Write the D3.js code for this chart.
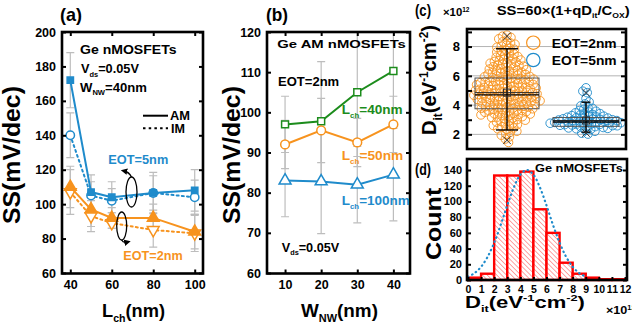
<!DOCTYPE html>
<html><head><meta charset="utf-8">
<script src="https://cdn.jsdelivr.net/npm/d3@7"></script>
<style>body{margin:0;background:#fff}svg{display:block}text{font-family:"Liberation Sans",Arial,sans-serif;font-weight:bold}</style>
</head><body><svg id="chart" width="632" height="324"></svg>
<script>
// ---------- Panel (a) data ----------
const lchValues = [40, 50, 60, 80, 100];
const ssEot5AM = [172, 107, 104, 106.5, 108];
const ssEot5IM = [140, 105, 102, 106.5, 104];
const ssEot2AM = [110, 97, 92, 92, 84];
const ssEot2IM = [107, 93, 89, 85, 83];
const errEot5AM = [16, 10, 9, 12, 12];
const errEot5IM = [13, 8, 7, 10, 10];
const errEot2AM = [12, 10, 6, 8, 10];
const errEot2IM = [13, 9, 3, 10, 10.5];
const ssTicksA = [60, 80, 100, 120, 140, 160, 180, 200];
const lchTicks = [40, 60, 80, 100];

// ---------- Panel (b) data ----------
const wnwValues = [10, 20, 30, 40];
const ssL40 = [97, 97.8, 105, 110.3];
const ssL50 = [92, 95.5, 92.5, 97];
const ssL100 = [83, 82.8, 82, 84.5];
const errL40 = [7, 14.8, 16, 13];
const errL50 = [6, 8, 6, 7];
const errL100 = [9, 13, 9.5, 11.5];
const ssTicksB = [60, 70, 80, 90, 100, 110, 120];
const wnwTicks = [10, 20, 30, 40];

// ---------- Panel (c) data ----------
const eotGroups = ["EOT=2nm", "EOT=5nm"];
const ditEot2 = [1.45,1.68,1.83,1.94,2.02,2.15,2.21,2.33,2.38,2.44,2.52,2.57,2.61,2.66,2.72,2.78,2.83,2.88,2.92,2.97,
3.01,3.06,3.11,3.15,3.18,3.21,3.24,3.29,3.33,3.36,3.39,3.41,3.44,3.47,3.51,3.53,3.56,3.59,3.61,3.63,3.67,3.70,3.72,3.75,3.78,
3.80,3.82,3.85,3.87,3.90,3.92,3.95,3.98,4.01,4.03,4.06,4.08,4.11,4.14,4.16,4.19,4.21,4.23,4.25,4.28,4.30,4.33,4.35,4.37,4.39,
4.41,4.43,4.45,4.48,4.50,4.52,4.55,4.57,4.59,4.60,4.62,4.64,4.67,4.69,4.71,4.74,4.76,4.78,4.80,4.82,4.85,4.87,4.89,4.91,4.94,4.96,4.98,
5.01,5.03,5.05,5.08,5.10,5.12,5.15,5.17,5.19,5.21,5.23,5.26,5.29,5.31,5.34,5.36,5.39,5.41,5.44,5.46,5.49,5.51,5.54,5.56,5.59,
5.61,5.64,5.67,5.70,5.73,5.76,5.78,5.81,5.84,5.87,5.90,5.93,5.96,5.98,6.02,6.05,6.09,6.12,6.15,6.18,6.22,6.25,6.29,6.32,6.35,6.38,
6.42,6.46,6.50,6.54,6.58,6.62,6.66,6.70,6.74,6.78,6.82,6.86,6.90,6.94,6.98,7.03,7.08,7.13,7.18,7.22,7.27,7.32,7.37,
7.43,7.49,7.55,7.62,7.68,7.74,7.82,7.88,7.95,8.03,8.09,8.16,8.24,8.33,8.44,8.53,8.62,8.71,8.78];
const ditEot5 = [2.02,2.08,2.21,2.28,2.34,2.38,2.41,2.44,2.47,2.50,2.53,2.56,2.59,2.60,2.62,2.64,2.66,2.68,2.70,2.72,2.74,2.76,2.78,
2.80,2.82,2.84,2.86,2.88,2.90,2.92,2.94,2.96,2.98,3.00,3.02,3.04,3.06,3.08,3.11,3.14,3.17,3.19,3.21,3.24,3.28,3.32,3.36,3.39,
3.42,3.47,3.53,3.58,3.63,3.71,3.78,3.84,3.95,4.08,4.22,4.45,4.85,4.95,5.18];
const boxQ1 = [3.75, 2.55];
const boxMedian = [4.7, 2.85];
const boxQ3 = [5.85, 3.15];
const boxMean = [4.85, 2.95];
const whiskerLow = [2.3, 2.15];
const whiskerHigh = [7.85, 4.2];
const pctLow = [1.6, 2.1];
const pctHigh = [8.7, 4.85];
const ditTicksC = [2, 3, 4, 5, 6, 7, 8, 9];
const ditGrid = [2, 4, 6, 8];

// ---------- Panel (d) data ----------
const binStart = [0, 1, 2, 3, 4, 5, 6, 7, 8, 9, 10, 11];
const binCount = [3, 8, 133, 133, 138, 90, 60, 22, 8, 3, 1, 1];
const fitX = [0, 0.5, 1, 1.5, 2, 2.5, 3, 3.5, 4, 4.5, 5, 5.5, 6, 6.5, 7, 7.5, 8, 8.5, 9];
const fitY = [4.2, 8.8, 16.8, 29.5, 47.5, 70, 94.9, 117.7, 134, 140, 134, 117.7, 94.9, 70, 47.5, 29.5, 16.8, 8.8, 4.2];
const countTicks = [0, 20, 40, 60, 80, 100, 120, 140];
const ditHistTicks = [0, 1, 2, 3, 4, 5, 6, 7, 8, 9, 10, 11, 12];

// ---------- colours ----------
const BLUE = "#1f8bcb", ORANGE = "#f7931e", GREEN = "#1c8c1c", GRAY = "#bdbdbd";

const svg = d3.select("#chart");
const defs = svg.append("defs");
const pat = defs.append("pattern").attr("id", "hatch").attr("patternUnits", "userSpaceOnUse")
  .attr("width", 3.4).attr("height", 3.4).attr("patternTransform", "rotate(-45)");
pat.append("rect").attr("width", 3.4).attr("height", 3.4).attr("fill", "#fff");
pat.append("line").attr("x1", 0).attr("y1", 0).attr("x2", 0).attr("y2", 3.4).attr("stroke", "#ff6a6a").attr("stroke-width", 1.2);
defs.append("marker").attr("id", "arr").attr("viewBox", "0 0 10 10").attr("refX", 5).attr("refY", 5)
  .attr("markerWidth", 5).attr("markerHeight", 5).attr("orient", "auto")
  .append("path").attr("d", "M0,0 L10,5 L0,10 Z").attr("fill", "#000");

function txt(g, parts, o) {
  const t = g.append("text").attr("font-size", o.size).attr("fill", o.color || "#000");
  let cur = 0;
  parts.forEach(p => {
    const [s, k] = Array.isArray(p) ? p : [p, "n"];
    const sz = k === "n" ? o.size : o.size * 0.58;
    const target = k === "sub" ? o.size * 0.28 : k === "sup" ? -o.size * 0.4 : 0;
    t.append("tspan").attr("font-size", sz).attr("dy", target - cur).text(s);
    cur = target;
  });
  const bb = t.node().getBBox();
  const w = o.width || bb.width;
  const s = w / bb.width;
  const off = o.anchor === "middle" ? -w / 2 : o.anchor === "end" ? -w : 0;
  if (o.rotate) t.attr("transform", `translate(${o.x},${o.y}) rotate(-90) translate(${off},0) scale(${s},1)`);
  else t.attr("transform", `translate(${o.x + off},${o.y}) scale(${s},1)`);
  return t;
}

function styleAxis(g, size) {
  g.select(".domain").remove();
  g.selectAll(".tick line").attr("stroke", "#000").attr("stroke-width", 2);
  g.selectAll(".tick text").attr("font-size", size).attr("font-family", '"Liberation Sans",Arial,sans-serif')
    .attr("font-weight", "bold").attr("fill", "#000");
}

function frame(g, x0, y0, x1, y1) {
  g.append("rect").attr("x", x0).attr("y", y0).attr("width", x1 - x0).attr("height", y1 - y0)
    .attr("fill", "none").attr("stroke", "#000").attr("stroke-width", 2.6);
}

function clip(id, x0, y0, x1, y1) {
  defs.append("clipPath").attr("id", id).append("rect").attr("x", x0).attr("y", y0).attr("width", x1 - x0).attr("height", y1 - y0);
  return `url(#${id})`;
}

function errBars(g, xs, ys, es, xS, yS, cap) {
  xs.forEach((x, i) => {
    const px = xS(x), lo = yS(ys[i] - es[i]), hi = yS(ys[i] + es[i]);
    g.append("line").attr("x1", px).attr("x2", px).attr("y1", lo).attr("y2", hi).attr("stroke", GRAY).attr("stroke-width", 1.2);
    [lo, hi].forEach(yy => g.append("line").attr("x1", px - cap).attr("x2", px + cap).attr("y1", yy).attr("y2", yy)
      .attr("stroke", GRAY).attr("stroke-width", 1.2));
  });
}

function series(g, xs, ys, xS, yS, color, dash, sym, size, filled, rot) {
  const line = d3.line().x((d, i) => xS(xs[i])).y(d => yS(d));
  g.append("path").attr("d", line(ys)).attr("fill", "none").attr("stroke", color).attr("stroke-width", 2)
    .attr("stroke-dasharray", dash || null).attr("stroke-linecap", dash ? "round" : null);
  const s = d3.symbol().type(sym).size(size);
  ys.forEach((y, i) => {
    g.append("path").attr("d", s()).attr("transform", `translate(${xS(xs[i])},${yS(y)}) rotate(${rot || 0})`)
      .attr("fill", filled ? color : "#fff").attr("stroke", color).attr("stroke-width", 1.5);
  });
}

// ================= Panel (a) =================
{
  const g = svg.append("g");
  const L = 62, R = 203, T = 32, B = 273.5;
  const x = d3.scaleLinear().domain([36, 104]).range([L, R]);
  const y = d3.scaleLinear().domain([60, 200]).range([273, 32]);
  const eg = g.append("g").attr("clip-path", clip("ca", L, T, R, B));
  errBars(eg, lchValues, ssEot5AM, errEot5AM, x, y, 4);
  errBars(eg, lchValues, ssEot5IM, errEot5IM, x, y, 4);
  errBars(eg, lchValues, ssEot2AM, errEot2AM, x, y, 4);
  errBars(eg, lchValues, ssEot2IM, errEot2IM, x, y, 4);
  series(g, lchValues, ssEot5IM, x, y, BLUE, "2,3.2", d3.symbolCircle, 55, false);
  series(g, lchValues, ssEot2IM, x, y, ORANGE, "2,3.2", d3.symbolTriangle, 60, false, 180);
  series(g, lchValues, ssEot5AM, x, y, BLUE, null, d3.symbolSquare, 40, true);
  series(g, lchValues, ssEot2AM, x, y, ORANGE, null, d3.symbolTriangle, 60, true);
  frame(g, L, T, R, B);
  styleAxis(g.append("g").attr("transform", `translate(${L},0)`).call(d3.axisLeft(y).tickValues(ssTicksA).tickSize(-4).tickPadding(6)), 12.5);
  styleAxis(g.append("g").attr("transform", `translate(${R},0)`).call(d3.axisRight(y).tickValues(ssTicksA).tickSize(-4).tickFormat("")), 12);
  styleAxis(g.append("g").attr("transform", `translate(0,${B})`).call(d3.axisBottom(x).tickValues(lchTicks).tickSize(-4).tickPadding(7)), 12.5);
  styleAxis(g.append("g").attr("transform", `translate(0,${T})`).call(d3.axisTop(x).tickValues(lchTicks).tickSize(-4).tickFormat("")), 12);
  // annotations
  txt(g, ["(a)"], { x: 60, y: 21, size: 18, width: 22 });
  txt(g, ["Ge nMOSFETs"], { x: 80, y: 54.3, size: 12, width: 97 });
  txt(g, ["V", ["ds", "sub"], "=0.05V"], { x: 81, y: 73.3, size: 12, width: 58 });
  txt(g, ["W", ["NW", "sub"], "=40nm"], { x: 80, y: 91.7, size: 12, width: 67 });
  g.append("line").attr("x1", 143).attr("x2", 168).attr("y1", 115.7).attr("y2", 115.7).attr("stroke", "#000").attr("stroke-width", 2);
  g.append("line").attr("x1", 143).attr("x2", 168).attr("y1", 128.3).attr("y2", 128.3).attr("stroke", "#000").attr("stroke-width", 2).attr("stroke-dasharray", "2.5,3.2");
  txt(g, ["AM"], { x: 170, y: 120, size: 12, width: 20 });
  txt(g, ["IM"], { x: 171, y: 132.5, size: 12, width: 14 });
  txt(g, ["EOT=5nm"], { x: 108.3, y: 164.3, size: 12.5, width: 60, color: BLUE });
  txt(g, ["EOT=2nm"], { x: 123.3, y: 260, size: 12.5, width: 59.4, color: ORANGE });
  g.append("ellipse").attr("cx", 131.5).attr("cy", 192).attr("rx", 5.5).attr("ry", 15).attr("fill", "none").attr("stroke", "#000").attr("stroke-width", 1.3);
  g.append("path").attr("d", "M131.5,177 Q129,172 124,171").attr("fill", "none").attr("stroke", "#000").attr("stroke-width", 1.3).attr("marker-end", "url(#arr)");
  g.append("ellipse").attr("cx", 121.7).attr("cy", 226).attr("rx", 5).attr("ry", 14).attr("fill", "none").attr("stroke", "#000").attr("stroke-width", 1.3);
  g.append("path").attr("d", "M121.7,240 Q123,243 127.5,242").attr("fill", "none").attr("stroke", "#000").attr("stroke-width", 1.3).attr("marker-end", "url(#arr)");
  txt(g, ["SS(mV/dec)"], { x: 20, y: 155, size: 23, width: 138, anchor: "middle", rotate: true });
  txt(g, ["L", ["ch", "sub"], "(nm)"], { x: 133.5, y: 317, size: 19, width: 63, anchor: "middle" });
}

// ================= Panel (b) =================
{
  const g = svg.append("g");
  const L = 267, R = 410, T = 32, B = 273.5;
  const x = d3.scaleLinear().domain([5, 44.6]).range([L, R]);
  const y = d3.scaleLinear().domain([60, 120]).range([273, 32]);
  const eg = g.append("g").attr("clip-path", clip("cb", L, T, R, B));
  errBars(eg, wnwValues, ssL40, errL40, x, y, 4);
  errBars(eg, wnwValues, ssL50, errL50, x, y, 4);
  errBars(eg, wnwValues, ssL100, errL100, x, y, 4);
  series(g, wnwValues, ssL40, x, y, GREEN, null, d3.symbolSquare, 48, false);
  series(g, wnwValues, ssL50, x, y, ORANGE, null, d3.symbolCircle, 60, false);
  series(g, wnwValues, ssL100, x, y, BLUE, null, d3.symbolTriangle, 62, false);
  frame(g, L, T, R, B);
  styleAxis(g.append("g").attr("transform", `translate(${L},0)`).call(d3.axisLeft(y).tickValues(ssTicksB).tickSize(-4).tickPadding(6)), 12.5);
  styleAxis(g.append("g").attr("transform", `translate(${R},0)`).call(d3.axisRight(y).tickValues(ssTicksB).tickSize(-4).tickFormat("")), 12);
  styleAxis(g.append("g").attr("transform", `translate(0,${B})`).call(d3.axisBottom(x).tickValues(wnwTicks).tickSize(-4).tickPadding(7)), 12.5);
  styleAxis(g.append("g").attr("transform", `translate(0,${T})`).call(d3.axisTop(x).tickValues(wnwTicks).tickSize(-4).tickFormat("")), 12);
  txt(g, ["(b)"], { x: 266, y: 21, size: 18, width: 22 });
  txt(g, ["Ge AM nMOSFETs"], { x: 277.3, y: 47.7, size: 11.5, width: 128.7 });
  txt(g, ["EOT=2nm"], { x: 278, y: 85.7, size: 12, width: 61.3 });
  txt(g, ["L", ["ch", "sub"], "=40nm"], { x: 341.7, y: 114.3, size: 12.5, width: 61, color: GREEN });
  txt(g, ["L", ["ch", "sub"], "=50nm"], { x: 341.7, y: 160, size: 12.5, width: 61.6, color: ORANGE });
  txt(g, ["L", ["ch", "sub"], "=100nm"], { x: 341.7, y: 205, size: 12.5, width: 68.3, color: BLUE });
  txt(g, ["V", ["ds", "sub"], "=0.05V"], { x: 281.7, y: 251.7, size: 12, width: 57.6 });
  txt(g, ["SS(mV/dec)"], { x: 240, y: 155, size: 23, width: 138, anchor: "middle", rotate: true });
  txt(g, ["W", ["NW", "sub"], "(nm)"], { x: 339.5, y: 317, size: 19, width: 77, anchor: "middle" });
}

// ================= Panel (c) =================
{
  const g = svg.append("g");
  const L = 467, R = 626, T = 29, B = 149;
  const y = d3.scaleLinear().domain([1, 9.2]).range([149, 29]);
  const xg = d3.scalePoint().domain(eotGroups).range([507, 586]);
  const colors = [ORANGE, BLUE];
  const halfW = [32, 33];
  const capW = [11, 4.5];
  ditGrid.forEach(v => g.append("line").attr("x1", L).attr("x2", R).attr("y1", y(v)).attr("y2", y(v)).attr("stroke", "#b3b3b3").attr("stroke-width", 1));

  function swarm(values, cx, d) {
    const pts = values.map(v => ({ v, y: y(v) })).sort((a, b) => a.y - b.y);
    const placed = [];
    pts.forEach((p, i) => {
      const iv = [];
      placed.forEach(q => {
        const dy = Math.abs(q.y - p.y);
        if (dy < d) { const w = Math.sqrt(d * d - dy * dy); iv.push([q.dx - w, q.dx + w]); }
      });
      const cands = [0];
      iv.forEach(([a, b]) => cands.push(a, b));
      cands.sort((a, b) => Math.abs(a) - Math.abs(b) || (i % 2 ? a - b : b - a));
      let best = 0;
      for (const c of cands) { if (!iv.some(([a, b]) => c > a + 1e-6 && c < b - 1e-6)) { best = c; break; } }
      p.dx = best; placed.push(p);
    });
    return pts.map(p => ({ x: cx + p.dx, y: p.y }));
  }
  [ditEot2, ditEot5].forEach((vals, k) => {
    swarm(vals, xg(eotGroups[k]), 4.6).forEach(p => g.append("circle").attr("cx", p.x).attr("cy", p.y).attr("r", 4.3)
      .attr("fill", "none").attr("stroke", colors[k]).attr("stroke-width", 0.9));
  });
  eotGroups.forEach((grp, k) => {
    const cx = xg(grp);
    g.append("rect").attr("x", cx - halfW[k]).attr("y", y(boxQ3[k])).attr("width", 2 * halfW[k]).attr("height", y(boxQ1[k]) - y(boxQ3[k]))
      .attr("fill", "none").attr("stroke", "#555").attr("stroke-width", 1);
    g.append("line").attr("x1", cx).attr("x2", cx).attr("y1", y(whiskerLow[k])).attr("y2", y(whiskerHigh[k])).attr("stroke", "#000").attr("stroke-width", 1.4);
    [whiskerLow[k], whiskerHigh[k]].forEach(v => g.append("line").attr("x1", cx - capW[k]).attr("x2", cx + capW[k]).attr("y1", y(v)).attr("y2", y(v)).attr("stroke", "#000").attr("stroke-width", 1.4));
    g.append("line").attr("x1", cx - halfW[k]).attr("x2", cx + halfW[k]).attr("y1", y(boxMedian[k])).attr("y2", y(boxMedian[k])).attr("stroke", "#000").attr("stroke-width", 1.4);
    g.append("line").attr("x1", cx - halfW[k]).attr("x2", cx + halfW[k]).attr("y1", y(boxMean[k])).attr("y2", y(boxMean[k])).attr("stroke", "#222").attr("stroke-width", 1);
    g.append("rect").attr("x", cx - 3.5).attr("y", y(boxMean[k]) - 3.5).attr("width", 7).attr("height", 7).attr("fill", "none").attr("stroke", "#333").attr("stroke-width", 1);
    [pctLow[k], pctHigh[k]].forEach(v => g.append("path").attr("d", d3.symbol().type(d3.symbolX).size(40)())
      .attr("transform", `translate(${cx},${y(v)})`).attr("fill", "none").attr("stroke", "#333").attr("stroke-width", 1));
  });
  frame(g, L, T, R, B);
  styleAxis(g.append("g").attr("transform", `translate(${L},0)`).call(d3.axisLeft(y).tickValues(ditTicksC).tickSize(-5).tickPadding(7).tickFormat(d => d % 2 === 0 ? d : "")), 13);
  styleAxis(g.append("g").attr("transform", `translate(${R},0)`).call(d3.axisRight(y).tickValues(ditTicksC).tickSize(-5).tickFormat("")), 12);
  // legend
  eotGroups.forEach((grp, k) => {
    g.append("circle").attr("cx", 533.3).attr("cy", 42.7 + k * 17.3).attr("r", 6.7).attr("fill", "none").attr("stroke", colors[k]).attr("stroke-width", 1.2);
    txt(g, [grp], { x: 551.7, y: 48 + k * 17, size: 12.5, width: 65 });
  });
  txt(g, ["(c)"], { x: 415, y: 16, size: 16, width: 16 });
  txt(g, ["×10", ["12", "sup"]], { x: 443, y: 16, size: 11, width: 27 });
  txt(g, ["SS=60×(1+qD", ["it", "sub"], "/C", ["OX", "sub"], ")"], { x: 496.7, y: 15, size: 12, width: 133 });
  txt(g, ["D", ["it", "sub"], "(eV", ["-1", "sup"], "cm", ["-2", "sup"], ")"], { x: 436, y: 80, size: 21, width: 110, anchor: "middle", rotate: true });
}

// ================= Panel (d) =================
{
  const g = svg.append("g");
  const L = 467, R = 627, T = 159, B = 280;
  const x = d3.scaleLinear().domain([0, 12]).range([468, 625]);
  const y = d3.scaleLinear().domain([0, 154]).range([280, 159]);
  binStart.forEach((s, i) => {
    g.append("rect").attr("x", x(s)).attr("y", y(binCount[i])).attr("width", x(s + 1) - x(s)).attr("height", y(0) - y(binCount[i]))
      .attr("fill", "url(#hatch)").attr("stroke", "#ff0000").attr("stroke-width", 2.4);
  });
  const line = d3.line().x((d, i) => x(fitX[i])).y(d => y(d)).curve(d3.curveCatmullRom);
  g.append("path").attr("d", line(fitY)).attr("fill", "none").attr("stroke", BLUE).attr("stroke-width", 2.2)
    .attr("stroke-dasharray", "0.5,4").attr("stroke-linecap", "round");
  frame(g, L, T, R, B);
  styleAxis(g.append("g").attr("transform", `translate(${L},0)`).call(d3.axisLeft(y).tickValues(countTicks).tickSize(-4).tickPadding(5)), 11);
  styleAxis(g.append("g").attr("transform", `translate(${R},0)`).call(d3.axisRight(y).tickValues(countTicks).tickSize(-4).tickFormat("")), 11);
  styleAxis(g.append("g").attr("transform", `translate(0,${B})`).call(d3.axisBottom(x).tickValues(ditHistTicks).tickSize(-3).tickPadding(6)), 10.5);
  txt(g, ["(d)"], { x: 415, y: 175, size: 16, width: 16 });
  txt(g, ["Ge nMOSFETs"], { x: 535, y: 171.7, size: 11, width: 88 });
  txt(g, ["Count"], { x: 441, y: 223.5, size: 22, width: 73, anchor: "middle", rotate: true });
  txt(g, ["D", ["it", "sub"], "(eV", ["-1", "sup"], "cm", ["-2", "sup"], ")"], { x: 525, y: 307.5, size: 16, width: 120, anchor: "middle" });
  txt(g, ["×10", ["12", "sup"]], { x: 606, y: 314, size: 11, width: 30 });
}
</script></body></html>
